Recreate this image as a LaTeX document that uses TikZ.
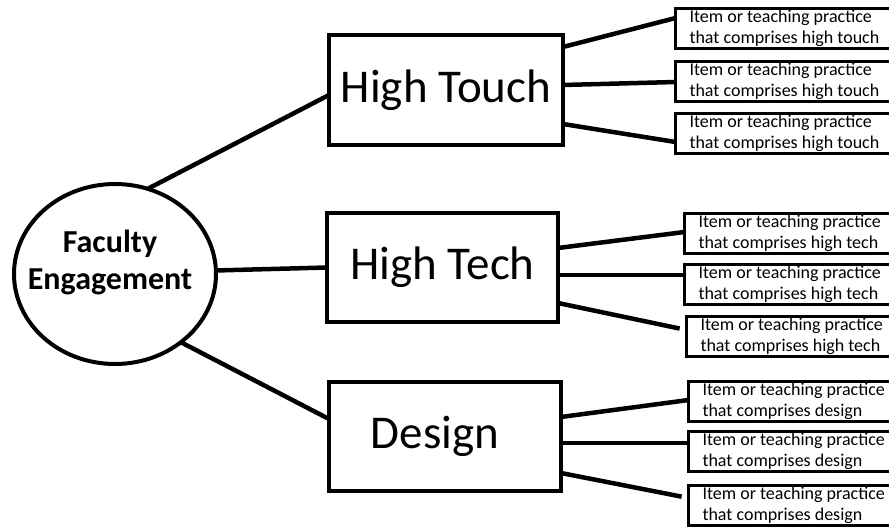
\documentclass[tikz,border=0pt]{standalone}
\usepackage{fontspec}
\setmainfont{Carlito}
\usetikzlibrary{shapes.geometric}
\begin{document}
\begin{tikzpicture}[x=1pt,y=-1pt,
  conn/.style={line width=4.5pt},
  mainbox/.style={draw,line width=4pt,rectangle,inner sep=0pt,outer sep=0pt,
    font=\fontsize{47}{56}\selectfont},
  leafbox/.style={draw,line width=3pt,rectangle,anchor=north west,outer sep=0pt,
    inner xsep=14pt,inner ysep=0pt,minimum height=40pt,text width=250pt,align=flush left,
    font=\fontsize{18}{21.5}\selectfont}]
\useasboundingbox (0,0) rectangle (889,527);
\fill[white] (0,0) rectangle (889,527);
\clip (0,0) rectangle (889,527);

% centre
\node[draw,ellipse,line width=4pt,minimum width=202pt,minimum height=180pt,inner sep=0pt,outer sep=0pt] (fe) at (115,274) {};
\node[font=\bfseries\fontsize{32}{37}\selectfont,align=center] (fet) at (110,262) {Faculty\\Engagement};

% categories
\node[mainbox,minimum width=234pt,minimum height=110pt] (ht) at (446,90) {High Touch};
\node[mainbox,minimum width=231pt,minimum height=109pt] (htc) at (442.5,267.5) {High Tech};
\node[mainbox,minimum width=232pt,minimum height=109pt] (ds) at (445,436.5) {\hspace*{-20pt}Design};

% leaves
\node[leafbox] (t1) at (675.5,8.5) {Item or teaching practice\\that comprises high touch};
\node[leafbox] (t2) at (675.5,61.5) {Item or teaching practice\\that comprises high touch};
\node[leafbox] (t3) at (675.5,113.5) {Item or teaching practice\\that comprises high touch};
\node[leafbox] (c1) at (684.5,213.5) {Item or teaching practice\\that comprises high tech};
\node[leafbox] (c2) at (684.5,264.5) {Item or teaching practice\\that comprises high tech};
\node[leafbox] (c3) at (686.5,316.5) {Item or teaching practice\\that comprises high tech};
\node[leafbox] (d1) at (688.5,381.5) {Item or teaching practice\\that comprises design};
\node[leafbox] (d2) at (688.5,431.5) {Item or teaching practice\\that comprises design};
\node[leafbox] (d3) at (688.5,485.5) {Item or teaching practice\\that comprises design};

% connectors from centre
\draw[conn] (fe.69) -- ([yshift=-60pt]ht.north west);
\draw[conn] (fe.2) -- (htc.west);
\draw[conn] (fe.-46) -- ([yshift=-37pt]ds.north west);

% connectors to leaves
\draw[conn] ([yshift=-12pt]ht.north east) -- ([yshift=-9.5pt]t1.north west);
\draw[conn] ([yshift=-50pt]ht.north east) -- ([yshift=-20.5pt]t2.north west);
\draw[conn] ([yshift=-89pt]ht.north east) -- ([yshift=-28.5pt]t3.north west);
\draw[conn] ([yshift=-35pt]htc.north east) -- ([yshift=-18.5pt]c1.north west);
\draw[conn] ([yshift=-62pt]htc.north east) -- ([yshift=-10.5pt]c2.north west);
\draw[conn,shorten >=7pt] ([yshift=-90pt]htc.north east) -- ([yshift=-13.5pt]c3.north west);
\draw[conn] ([yshift=-35pt]ds.north east) -- ([yshift=-18.5pt]d1.north west);
\draw[conn] ([yshift=-61pt]ds.north east) -- ([yshift=-11.5pt]d2.north west);
\draw[conn,shorten >=7pt] ([yshift=-91pt]ds.north east) -- ([yshift=-12.5pt]d3.north west);
\end{tikzpicture}
\end{document}
